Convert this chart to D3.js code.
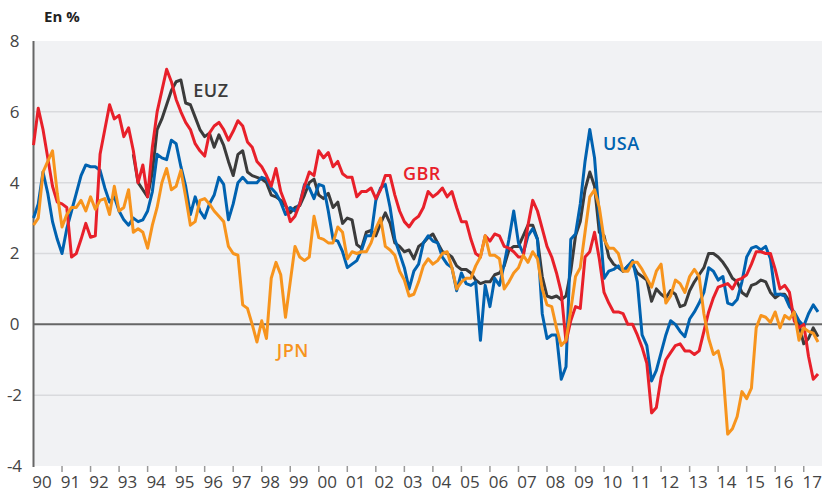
<!DOCTYPE html>
<html>
<head>
<meta charset="utf-8">
<script src="https://cdn.jsdelivr.net/npm/d3@7"></script>
<style>
  body { margin: 0; background: #fff; }
  svg { display: block; }
  text { font-family: "Open Sans", "Noto Sans", sans-serif; }
</style>
</head>
<body>
<div id="chart"></div>
<script>
// Two-month samples, first value at January 1990 (EUZ starts mid-1993)
var step = 1 / 6;

var usa = [3.0, 3.4, 4.3, 3.7, 2.9, 2.4, 2.0, 2.7, 3.2, 3.7, 4.2, 4.5, 4.45, 4.45, 4.35, 3.85, 3.45, 3.6, 3.2, 2.95,
  2.8, 3.0, 2.9, 2.95, 3.2, 3.75, 4.8, 4.7, 4.65, 5.2, 5.1, 4.45, 3.9, 3.1, 3.6, 3.2, 3.0, 3.4, 3.65, 4.15,
  3.95, 2.95, 3.4, 4.0, 4.15, 4.0, 4.0, 4.0, 4.15, 4.1, 3.85, 3.7, 3.45, 3.1, 3.3, 3.2, 3.4, 3.95, 3.85, 3.55,
  3.95, 3.9, 3.2, 2.4, 2.35, 2.05, 1.6, 1.7, 1.8, 2.1, 2.5, 2.5, 3.5, 3.85, 3.95, 3.3, 2.4, 2.0, 1.6, 1.0,
  1.5, 1.7, 2.3, 2.5, 2.35, 2.3, 1.9, 1.7, 1.6, 0.95, 1.45, 1.15, 1.1, 1.2, -0.45, 1.1, 0.5, 1.3, 1.1, 1.7,
  2.4, 3.2, 2.3, 2.0, 2.5, 2.7, 2.4, 0.3, -0.4, -0.3, -0.3, -1.55, -1.2, 2.4, 2.55, 3.4, 4.6, 5.5, 4.7, 3.0,
  1.3, 1.5, 1.55, 1.65, 1.5, 1.65, 1.8, 1.2, -0.3, -0.6, -1.6, -1.3, -0.8, -0.3, 0.1, 0.0, -0.2, -0.35, 0.15, 0.35,
  0.6, 0.9, 1.6, 1.5, 1.25, 1.35, 0.6, 0.55, 0.7, 1.2, 1.9, 2.15, 2.2, 2.1, 2.2, 1.85, 0.85, 0.85, 0.8, 0.5,
  0.35, 0.1, -0.05, 0.3, 0.55, 0.35];

var gbr = [5.06, 6.1, 5.5, 4.7, 3.9, 3.45, 3.4, 3.3, 1.9, 2.0, 2.4, 2.85, 2.46, 2.5, 4.8, 5.5, 6.2, 5.8, 5.9, 5.3,
  5.55, 4.9, 4.0, 4.5, 3.6, 5.0, 6.0, 6.6, 7.2, 6.85, 6.35, 6.0, 5.7, 5.5, 5.1, 4.9, 4.75, 5.4, 5.6, 5.7,
  5.5, 5.2, 5.45, 5.75, 5.6, 5.15, 5.0, 4.6, 4.45, 4.2, 3.9, 4.4, 3.75, 3.4, 2.9, 3.05, 3.4, 3.9, 4.3, 4.2,
  4.9, 4.7, 4.85, 4.45, 4.6, 4.25, 4.15, 4.15, 3.6, 3.75, 3.75, 3.85, 3.55, 3.8, 4.2, 4.2, 3.65, 3.2, 2.9, 2.75,
  2.95, 3.05, 3.3, 3.75, 3.6, 3.7, 3.85, 3.6, 3.75, 3.3, 2.9, 2.9, 2.4, 2.0, 1.9, 2.5, 2.35, 2.55, 2.5, 2.2,
  2.15, 2.05, 1.9, 1.9, 2.8, 3.5, 3.2, 2.7, 2.2, 1.9, 1.45, 0.9, -0.5, 0.1, 0.5, 0.45, 1.9, 2.05, 2.6, 1.85,
  0.9, 0.6, 0.35, 0.35, 0.3, 0.0, 0.0, -0.3, -0.65, -1.1, -2.5, -2.35, -1.5, -1.0, -0.8, -0.6, -0.55, -0.75, -0.75, -0.85,
  -0.75, -0.2, 0.35, 0.75, 1.05, 1.1, 1.15, 1.0, 1.25, 1.3, 1.4, 1.7, 2.05, 2.05, 2.0, 2.0, 1.55, 1.0, 1.1, 0.9,
  0.1, -0.1, 0.0, -0.9, -1.55, -1.4];

var jpn = [2.8, 3.0, 4.3, 4.6, 4.9, 3.7, 2.75, 3.1, 3.3, 3.3, 3.5, 3.2, 3.6, 3.25, 3.5, 3.55, 3.1, 3.9, 3.2, 3.3,
  3.8, 2.6, 2.7, 2.6, 2.15, 2.8, 3.3, 4.0, 4.4, 3.8, 3.9, 4.35, 3.6, 2.8, 2.9, 3.5, 3.55, 3.4, 3.2, 3.05,
  2.9, 2.2, 2.0, 1.95, 0.55, 0.45, 0.0, -0.5, 0.1, -0.4, 1.3, 1.75, 1.4, 0.2, 1.2, 2.2, 1.9, 1.8, 1.9, 3.05,
  2.45, 2.4, 2.3, 2.3, 2.75, 2.6, 1.85, 2.05, 2.0, 2.05, 2.05, 2.3, 2.7, 3.0, 2.2, 2.1, 1.95, 1.5, 1.25, 0.8,
  0.85, 1.2, 1.65, 1.85, 1.7, 1.8, 2.0, 2.05, 1.6, 1.0, 1.2, 1.3, 1.3, 1.65, 1.9, 2.5, 1.95, 1.95, 1.85, 1.0,
  1.2, 1.45, 1.6, 1.95, 1.75, 2.05, 1.85, 1.0, 0.55, 0.5, -0.1, -0.6, -0.45, 0.4, 1.35, 1.6, 2.6, 3.6, 3.8, 3.3,
  2.4, 2.15, 2.15, 2.0, 1.5, 1.5, 1.75, 1.75, 1.55, 1.3, 1.05, 1.5, 1.7, 0.6, 0.8, 1.25, 1.15, 0.9, 1.35, 1.55,
  1.35, 0.3, -0.4, -0.85, -0.75, -1.3, -3.1, -2.95, -2.6, -1.9, -2.1, -1.8, -0.1, 0.25, 0.2, 0.05, 0.35, -0.1, 0.25, 0.15,
  0.35, -0.45, -0.1, -0.2, -0.25, -0.5];

var euzStart = 1993.5;
var euz = [4.8, 4.0, 3.8, 3.6, 4.3, 5.5, 5.8, 6.2, 6.6, 6.85, 6.9, 6.25, 6.2, 5.85, 5.5, 5.3, 5.4, 5.0, 5.35,
  5.05, 4.6, 4.2, 4.8, 4.9, 4.3, 4.2, 4.15, 4.1, 4.0, 3.65, 3.6, 3.5, 3.35, 3.15, 3.3, 3.35, 3.65, 4.0, 4.1,
  3.65, 3.55, 3.7, 3.3, 3.45, 2.85, 3.0, 2.95, 2.25, 2.15, 2.6, 2.65, 2.5, 2.85, 3.15, 2.85, 2.3, 2.2, 2.05, 2.1,
  1.85, 2.2, 2.3, 2.45, 2.55, 2.3, 2.05, 2.0, 1.9, 1.65, 1.55, 1.55, 1.45, 1.25, 1.15, 1.2, 1.2, 1.4, 1.45, 1.65,
  2.1, 2.2, 2.2, 2.5, 2.8, 2.8, 2.4, 1.35, 0.8, 0.75, 0.8, 0.7, 0.8, 1.5, 2.5, 2.9, 3.8, 4.3, 3.9, 2.6,
  2.5, 1.9, 1.7, 1.6, 1.5, 1.65, 1.7, 1.45, 1.35, 1.25, 0.65, 1.0, 0.85, 0.75, 0.95, 0.85, 0.5, 0.55, 0.95, 1.2,
  1.4, 1.6, 2.0, 2.0, 1.9, 1.75, 1.55, 1.3, 1.2, 0.9, 0.8, 1.1, 1.15, 1.25, 1.2, 0.9, 0.75, 0.85, 0.85, 0.65,
  0.2, 0.0, -0.55, -0.4, -0.1, -0.35];

var yTicks = [-4, -2, 0, 2, 4, 6, 8];
var tickYears = d3.range(1990, 2018);
var tickLabels = tickYears.map(function (y) { return String(y % 100).padStart(2, '0'); });

var width = 822, height = 493;
var plot = { left: 33.5, right: 822, top: 41, bottom: 466 };

var x = d3.scaleLinear().domain([1990, 2017.64]).range([plot.left, plot.right]);
var y = d3.scaleLinear().domain([-4, 8]).range([plot.bottom, plot.top]);

var svg = d3.select('#chart').append('svg')
  .attr('width', width)
  .attr('height', height);

// plot background
svg.append('rect')
  .attr('x', plot.left).attr('y', plot.top)
  .attr('width', plot.right - plot.left).attr('height', plot.bottom - plot.top)
  .attr('fill', '#f1f2f4');

// horizontal gridlines
svg.selectAll('.grid')
  .data(yTicks.filter(function (d) { return d !== 0 && d !== -4 && d !== 8; }))
  .enter().append('line')
  .attr('x1', plot.left).attr('x2', plot.right)
  .attr('y1', function (d) { return y(d); })
  .attr('y2', function (d) { return y(d); })
  .attr('stroke', '#d9dadd')
  .attr('stroke-width', 1.5);

// y tick labels
svg.selectAll('.ylab')
  .data(yTicks)
  .enter().append('text')
  .attr('x', 14.5)
  .attr('y', function (d) { return y(d); })
  .attr('dy', '0.35em')
  .attr('text-anchor', 'middle')
  .attr('font-size', 17)
  .attr('fill', '#444')
  .text(function (d) { return d; });

// x ticks and labels
svg.selectAll('.xtick')
  .data(tickYears.slice(1))
  .enter().append('line')
  .attr('x1', function (d) { return x(d); })
  .attr('x2', function (d) { return x(d); })
  .attr('y1', plot.bottom)
  .attr('y2', plot.bottom + 6)
  .attr('stroke', '#999')
  .attr('stroke-width', 1.5);

svg.selectAll('.xlab')
  .data(tickYears)
  .enter().append('text')
  .attr('x', function (d) { return x(d) + 8.5; })
  .attr('y', 488)
  .attr('text-anchor', 'middle')
  .attr('font-size', 17)
  .attr('fill', '#444')
  .text(function (d, i) { return tickLabels[i]; });

// zero line and left axis
svg.append('line')
  .attr('x1', plot.left).attr('x2', plot.right)
  .attr('y1', y(0)).attr('y2', y(0))
  .attr('stroke', '#666').attr('stroke-width', 2);

svg.append('line')
  .attr('x1', plot.left).attr('x2', plot.left)
  .attr('y1', plot.top).attr('y2', plot.bottom + 1)
  .attr('stroke', '#666').attr('stroke-width', 2);

// series
function toPoints(values, start) {
  return values.map(function (v, i) { return { t: start + i * step, v: v }; });
}

var line = d3.line()
  .x(function (d) { return x(d.t); })
  .y(function (d) { return y(d.v); });

var series = [
  { name: 'EUZ', values: euz, start: euzStart, color: '#3b3b3b', lx: 1995.6, ly: 6.42 },
  { name: 'USA', values: usa, start: 1990, color: '#0062b0', lx: 2009.96, ly: 4.92 },
  { name: 'GBR', values: gbr, start: 1990, color: '#e8202a', lx: 2002.95, ly: 4.07 },
  { name: 'JPN', values: jpn, start: 1990, color: '#f7941d', lx: 1998.53, ly: -0.92 }
];

svg.selectAll('.series')
  .data(series)
  .enter().append('path')
  .attr('d', function (d) { return line(toPoints(d.values, d.start)); })
  .attr('fill', 'none')
  .attr('stroke', function (d) { return d.color; })
  .attr('stroke-width', 3)
  .attr('stroke-linejoin', 'round');

svg.selectAll('.slab')
  .data(series)
  .enter().append('text')
  .attr('x', function (d) { return x(d.lx); })
  .attr('y', function (d) { return y(d.ly); })
  .attr('font-size', 18)
  .attr('font-weight', 600)
  .attr('letter-spacing', '0.5px')
  .attr('fill', function (d) { return d.color; })
  .text(function (d) { return d.name; });

// unit label
svg.append('text')
  .attr('x', 44).attr('y', 22)
  .attr('font-size', 15)
  .attr('font-weight', 700)
  .attr('fill', '#222')
  .text('En %');
</script>
</body>
</html>
